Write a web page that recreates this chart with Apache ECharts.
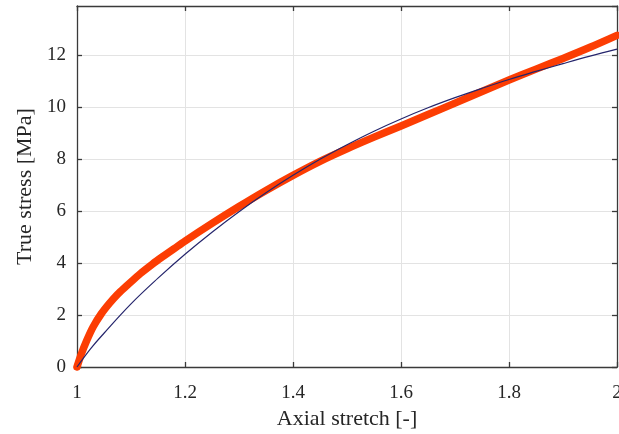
<!DOCTYPE html>
<html>
<head>
<meta charset="utf-8">
<script src="https://cdn.jsdelivr.net/npm/echarts@6/dist/echarts.min.js"></script>
<style>
  html, body { margin: 0; padding: 0; background: #fff; }
  #chart { width: 619px; height: 434px; }
</style>
</head>
<body>
<div id="chart"></div>
<script>
// Measured uniaxial response: axial stretch vs. true stress
const expStretch = [1.000, 1.008, 1.018, 1.030, 1.045, 1.060, 1.075, 1.090, 1.105, 1.120,
  1.140, 1.160, 1.180, 1.200, 1.250, 1.300, 1.350, 1.400, 1.450, 1.500,
  1.550, 1.600, 1.650, 1.700, 1.750, 1.800, 1.850, 1.900, 1.950, 2.000];
const expStress = [0.00, 0.50, 1.02, 1.55, 2.05, 2.45, 2.80, 3.09, 3.37, 3.64,
  3.97, 4.27, 4.56, 4.85, 5.53, 6.18, 6.80, 7.38, 7.92, 8.40,
  8.85, 9.28, 9.72, 10.16, 10.61, 11.05, 11.47, 11.88, 12.31, 12.77];

// Fitted constitutive model
const fitStretch = [1.000, 1.025, 1.050, 1.100, 1.150, 1.200, 1.250, 1.300, 1.350, 1.400,
  1.450, 1.500, 1.550, 1.600, 1.650, 1.700, 1.750, 1.800, 1.850, 1.900,
  1.950, 2.000];
const fitStress = [0.00, 0.70, 1.30, 2.43, 3.42, 4.34, 5.19, 5.98, 6.71, 7.38,
  8.00, 8.56, 9.08, 9.55, 9.98, 10.37, 10.73, 11.07, 11.38, 11.68,
  11.97, 12.24];

// Axis ranges and tick spacing
const xMin = 1, xMax = 2, xStep = 0.2;
const yMin = 0, yMax = 13.9, yStep = 2;

const pairs = (xs, ys) => xs.map((x, i) => [x, ys[i]]);

const serif = '"Liberation Serif", "DejaVu Serif", serif';
const axisColor = '#3a3a3a';
const gridColor = '#e3e3e3';

function boxAxis(extra) {
  return Object.assign({
    type: 'value',
    axisLine: { show: true, onZero: false, lineStyle: { color: axisColor, width: 1.3 } },
    axisTick: { show: true, inside: true, length: 5, lineStyle: { color: axisColor, width: 1.3 } },
    splitLine: { show: false },
    axisLabel: { show: false }
  }, extra);
}

const chart = echarts.init(document.getElementById('chart'), null, { renderer: 'canvas' });
chart.setOption({
  animation: false,
  backgroundColor: '#ffffff',
  grid: { left: 77, right: 2, top: 6, bottom: 67, containLabel: false, outerBoundsMode: 'none' },
  xAxis: [
    boxAxis({
      position: 'bottom', min: xMin, max: xMax, interval: xStep,
      name: 'Axial stretch [-]', nameLocation: 'middle', nameGap: 37,
      nameTextStyle: { fontFamily: serif, fontSize: 22, color: '#262626' },
      splitLine: { show: true, lineStyle: { color: gridColor, width: 1 } },
      axisLabel: {
        show: true, margin: 17, fontFamily: serif, fontSize: 19, color: '#262626',
        formatter: v => String(+v.toFixed(1))
      }
    }),
    boxAxis({ position: 'top', min: xMin, max: xMax, interval: xStep })
  ],
  yAxis: [
    boxAxis({
      position: 'left', min: yMin, max: yMax, interval: yStep,
      name: 'True stress [MPa]', nameLocation: 'middle', nameGap: 41, nameRotate: 90,
      nameTextStyle: { fontFamily: serif, fontSize: 22, color: '#262626' },
      splitLine: { show: true, lineStyle: { color: gridColor, width: 1 } },
      axisLabel: {
        show: true, margin: 11, fontFamily: serif, fontSize: 19, color: '#262626',
        showMaxLabel: false
      }
    }),
    boxAxis({ position: 'right', min: yMin, max: yMax, interval: yStep })
  ],
  series: [
    {
      name: 'Experiment',
      type: 'line',
      data: pairs(expStretch, expStress),
      showSymbol: false,
      smooth: 0.3,
      clip: false,
      lineStyle: { color: '#fc3d03', width: 7.5, cap: 'round', join: 'round' },
      z: 2
    },
    {
      name: 'Model',
      type: 'line',
      data: pairs(fitStretch, fitStress),
      showSymbol: false,
      smooth: 0.4,
      clip: false,
      lineStyle: { color: '#25256c', width: 1.2 },
      z: 3
    }
  ]
});
</script>
</body>
</html>
